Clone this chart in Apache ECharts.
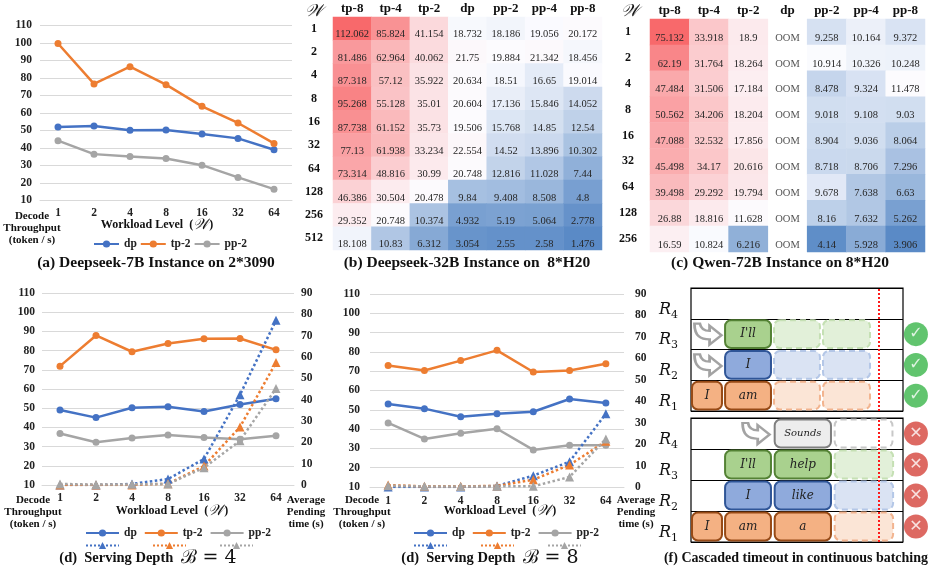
<!DOCTYPE html>
<html><head><meta charset="utf-8">
<script src="https://cdn.jsdelivr.net/npm/echarts@6/dist/echarts.min.js"></script>
<style>html,body{margin:0;padding:0;background:#fff}#c{width:935px;height:574px}</style>
</head><body><div id="c"></div>
<script>
const SERIF = "'Liberation Serif','DejaVu Serif',serif";
const MATH = "'DejaVu Serif','Liberation Serif',serif";
const TXT = '#222';

// ---------- data ----------
const workload = ['1','2','4','8','16','32','64'];
const names = ['dp','tp-2','pp-2'];

// (a) Deepseek-7B on 2*3090
const a_dp  = [52.0, 52.6, 50.1, 50.3, 48.0, 45.5, 39.0];
const a_tp2 = [99.7, 76.6, 86.5, 76.2, 63.8, 54.3, 42.6];
const a_pp2 = [44.2, 36.5, 35.2, 34.0, 30.2, 23.2, 16.5];

// (b)/(c) heatmaps
const strategies = ['tp-8','tp-4','tp-2','dp','pp-2','pp-4','pp-8'];
const wB = ['1','2','4','8','16','32','64','128','256','512'];
const b_vals = [
  [112.062, 85.824, 41.154, 18.732, 18.186, 19.056, 20.172],
  [81.486, 62.964, 40.062, 21.75, 19.884, 21.342, 18.456],
  [87.318, 57.12, 35.922, 20.634, 18.51, 16.65, 19.014],
  [95.268, 55.128, 35.01, 20.604, 17.136, 15.846, 14.052],
  [87.738, 61.152, 35.73, 19.506, 15.768, 14.85, 12.54],
  [77.13, 61.938, 33.234, 22.554, 14.52, 13.896, 10.302],
  [73.314, 48.816, 30.99, 20.748, 12.816, 11.028, 7.44],
  [46.386, 30.504, 20.478, 9.84, 9.408, 8.508, 4.8],
  [29.352, 20.748, 10.374, 4.932, 5.19, 5.064, 2.778],
  [18.108, 10.83, 6.312, 3.054, 2.55, 2.58, 1.476]
];
const wC = ['1','2','4','8','16','32','64','128','256'];
const c_vals = [
  [75.132, 33.918, 18.9, null, 9.258, 10.164, 9.372],
  [62.19, 31.764, 18.264, null, 10.914, 10.326, 10.248],
  [47.484, 31.506, 17.184, null, 8.478, 9.324, 11.478],
  [50.562, 34.206, 18.204, null, 9.018, 9.108, 9.03],
  [47.088, 32.532, 17.856, null, 8.904, 9.036, 8.064],
  [45.498, 34.17, 20.616, null, 8.718, 8.706, 7.296],
  [39.498, 29.292, 19.794, null, 9.678, 7.638, 6.63],
  [26.88, 18.816, 11.628, null, 8.16, 7.632, 5.262],
  [16.59, 10.824, 6.216, null, 4.14, 5.928, 3.906]
];
const oomText = 'OOM';

// (d) serving depth B=4
const d4_dp  = [49.1, 45.1, 50.2, 50.7, 48.3, 51.9, 54.9];
const d4_tp2 = [71.9, 87.9, 79.4, 83.7, 86.2, 86.3, 80.4];
const d4_pp2 = [36.8, 32.3, 34.5, 36.1, 34.7, 33.8, 35.6];
const d4_pend_dp  = [0, 0, 0.5, 2.8, 12.2, 42.3, 77.2];
const d4_pend_tp2 = [0, 0, 0, 0.6, 8.9, 27.2, 57.4];
const d4_pend_pp2 = [0.5, 0.2, 0.3, 0.5, 8.1, 20.8, 45.2];
// (d) serving depth B=8
const d8_dp  = [53.0, 50.6, 46.4, 48.0, 49.0, 55.6, 53.5];
const d8_tp2 = [72.9, 70.4, 75.5, 80.8, 69.6, 70.4, 73.9];
const d8_pp2 = [43.2, 34.9, 37.8, 40.2, 29.2, 31.6, 31.6];
const d8_pend_dp  = [0, 0, 0, 0.5, 5.3, 11.8, 34.2];
const d8_pend_tp2 = [0.9, 0.3, 0.3, 0.5, 3.4, 10.3, 21.3];
const d8_pend_pp2 = [0.6, 0.3, 0.2, 0.3, 0.3, 4.7, 22.4];

// (f) cascaded timeout: [requestRow, startTime, endTime, token, state]
const fRows = ['R1','R2','R3','R4'];
const fTop = [
  [0, 0, 1.51, 'I', 'done'], [0, 1.56, 3.82, 'am', 'done'], [0, 3.87, 6.13, '', 'future'], [0, 6.18, 8.49, '', 'future'],
  [1, 1.56, 3.82, 'I', 'done'], [1, 3.87, 6.13, '', 'future'], [1, 6.18, 8.49, '', 'future'],
  [2, 1.56, 3.82, "I'll", 'done'], [2, 3.87, 6.13, '', 'future'], [2, 6.18, 8.49, '', 'future']
];
const fBot = [
  [0, 0, 1.51, 'I', 'done'], [0, 1.56, 3.82, 'am', 'done'], [0, 3.9, 6.65, 'a', 'done'], [0, 6.73, 9.58, '', 'future'],
  [1, 1.56, 3.82, 'I', 'done'], [1, 3.9, 6.65, 'like', 'done'], [1, 6.73, 9.58, '', 'future'],
  [2, 1.56, 3.82, "I'll", 'done'], [2, 3.9, 6.65, 'help', 'done'], [2, 6.73, 9.58, '', 'future'],
  [3, 3.9, 6.65, 'Sounds', 'done'], [3, 6.73, 9.55, '', 'future']
];
const fTimeout = 8.87;
const fArrivalsTop = [[0.8, 2], [0.8, 1]];
const fArrivalsBot = [[3.07, 3]];
const fOkRows = [0, 1, 2];
const fFailRows = [0, 1, 2, 3];
const fStatusTime = 10.61;

// ---------- helpers ----------
const COL = {dp:'#4472C4', 'tp-2':'#ED7D31', 'pp-2':'#A5A5A5'};
const PAL = [
  {f:'#F4B183', s:'#974A16', ff:'#FBE5D6', fs:'#F2B48F'},
  {f:'#8FAADC', s:'#2F5597', ff:'#DAE3F3', fs:'#B4C7E7'},
  {f:'#A9D18E', s:'#548235', ff:'#E2F0D9', fs:'#C5E0B4'},
  {f:'#EDEDED', s:'#7F7F7F', ff:'#FFFFFF', fs:'#C8C8C8'}
];
const axLabel = {fontFamily:SERIF, fontWeight:'bold', fontSize:11.5, color:TXT};

function catX(grid, margin){
  return {type:'category', gridIndex:grid, data:workload, boundaryGap:true,
    axisLine:{lineStyle:{color:'#D9D9D9', width:1}}, axisTick:{show:false},
    axisLabel:Object.assign({}, axLabel, {margin})};
}
function valY(grid, min, max, pos, margin, split){
  return {type:'value', gridIndex:grid, min, max, interval:10, position:pos,
    axisLine:{show:false}, axisTick:{show:false},
    splitLine:{show:split, lineStyle:{color:'#D9D9D9'}},
    axisLabel:Object.assign({}, axLabel, {margin})};
}
function solid(name, data, xi, yi){
  const c = COL[name];
  return {type:'line', name, data, xAxisIndex:xi, yAxisIndex:yi, symbol:'circle', symbolSize:7,
    lineStyle:{color:c, width:2.5}, itemStyle:{color:c}, z:3};
}
function dotted(name, data, xi, yi){
  const c = COL[name];
  return {type:'line', name:name+' ', data, xAxisIndex:xi, yAxisIndex:yi, symbol:'triangle', symbolSize:9,
    lineStyle:{color:c, width:2.5, type:'dotted'}, itemStyle:{color:c}, z:4};
}
function heatData(vals){
  const d=[]; vals.forEach((row,ri)=>row.forEach((v,ci)=>{ if(v!==null) d.push([ci,ri,v]); })); return d;
}
function median(arr){ const s=arr.slice().sort((a,b)=>a-b); const n=s.length; return n%2? s[(n-1)/2] : (s[n/2-1]+s[n/2])/2; }
function lerp(c1,c2,t){ return 'rgb('+c1.map((v,i)=>Math.round(v+(c2[i]-v)*t)).join(',')+')'; }
function excelScale(vals){
  const flat = vals.flat().filter(v=>v!==null);
  const min=Math.min(...flat), max=Math.max(...flat), mid=median(flat);
  const blue=[90,138,198], white=[252,252,255], red=[248,105,107];
  const stops=[]; const n=200;
  for(let i=0;i<=n;i++){
    const v=min+(max-min)*i/n;
    stops.push(v<=mid? lerp(blue,white,(v-min)/(mid-min)) : lerp(white,red,(v-mid)/(max-mid)));
  }
  return {min, max, stops};
}
const scB = excelScale(b_vals), scC = excelScale(c_vals);

function heatAxisX(grid){
  return {type:'category', gridIndex:grid, data:strategies, position:'top',
    axisLine:{show:false}, axisTick:{show:false}, splitLine:{show:false},
    axisLabel:{fontFamily:SERIF, fontWeight:'bold', fontSize:13, color:'#111', margin:2}};
}
function heatAxisY(grid, data, margin){
  return {type:'category', gridIndex:grid, data, inverse:true,
    axisLine:{show:false}, axisTick:{show:false}, splitLine:{show:false},
    axisLabel:{fontFamily:SERIF, fontWeight:'bold', fontSize:12, color:'#111', margin, align:'center', padding:[12,0,0,0]}};
}
const cellLabel = {show:true, formatter:p=>String(p.value[2]), fontFamily:SERIF, fontSize:10.5, color:'#262626', offset:[0,6]};

function blockRenderer(blocks){
  return function(params, api){
    const b = blocks[params.dataIndex];
    const row=b[0], x0=b[1], x1=b[2], txt=b[3], future=b[4]==='future';
    const p0=api.coord([x0,row]), p1=api.coord([x1,row]);
    const h=api.size([0,1])[1];
    const pal=PAL[row];
    const children=[{type:'rect', shape:{x:p0[0]+1, y:p0[1]-h/2+1.5, width:p1[0]-p0[0]-2, height:h-3, r:6},
      style:{fill: future?pal.ff:pal.f, stroke: future?pal.fs:pal.s, lineWidth:2, lineDash: future?[6,4]:null}}];
    if(txt) children.push({type:'text', style:{text:txt, x:(p0[0]+p1[0])/2, y:p0[1], align:'center', verticalAlign:'middle',
      fontFamily:MATH, fontStyle:'italic', fontSize: txt.length>4?10:12, fill:'#222'}});
    return {type:'group', children};
  };
}
function blockSeries(blocks, xi, yi){
  return {type:'custom', xAxisIndex:xi, yAxisIndex:yi, renderItem:blockRenderer(blocks),
    data:blocks.map(b=>[b[1], b[0], b[2]]), encode:{x:[0,2], y:1}, clip:false, silent:true,
    markLine:{silent:true, symbol:['none','none'], label:{show:false}, data:[{xAxis:fTimeout}],
      lineStyle:{color:'#FF1A1A', type:'dotted', width:2}}};
}
const arrowPath = 'path://M3,2 C3,14 9,17 17,17 L17,22 L28,13 L17,4 L17,9 C12,9 9,7 8,2 Z';
function arrowSeries(data, xi, yi){
  return {type:'scatter', xAxisIndex:xi, yAxisIndex:yi, data, symbol:arrowPath, symbolSize:[27,21], symbolKeepAspect:false,
    itemStyle:{color:'#fff', borderColor:'#8C8C8C', borderWidth:2.5}, clip:false, silent:true, z:5};
}
function statusSeries(rows, ok, xi, yi){
  return {type:'scatter', xAxisIndex:xi, yAxisIndex:yi, data:rows.map(r=>[fStatusTime, r]), symbol:'circle', symbolSize:24,
    itemStyle:{color: ok?'#39B54A':'#D5433B'}, clip:false, silent:true,
    label:{show:true, position:'inside', formatter: ok?'✓':'✕', color:'#fff', fontFamily:'DejaVu Sans', fontWeight:'bold', fontSize:16}};
}
function rAxis(grid){
  return {type:'category', gridIndex:grid, data:fRows, boundaryGap:true,
    axisLine:{show:false}, axisTick:{show:false},
    splitLine:{show:true, interval:0, lineStyle:{color:'#000', width:1.2}},
    axisLabel:{margin:13, formatter:v=>'{r|R}{s|'+v.slice(1)+'}', padding:[12,0,0,0],
      rich:{r:{fontFamily:MATH, fontStyle:'italic', fontSize:16, color:'#111', lineHeight:22},
            s:{fontFamily:MATH, fontSize:11, color:'#111', verticalAlign:'bottom', lineHeight:12}}}};
}
function fX(grid){ return {type:'value', gridIndex:grid, min:0, max:10, show:false}; }

function lg(left, top, w, data, empty, gap, tw){
  return {left, top, itemWidth:w, itemHeight:9, itemGap:gap, data, selectedMode:false,
    formatter: empty? (()=>'') : (n=>n),
    textStyle:{fontFamily:SERIF, fontWeight:'bold', fontSize:11.5, color:TXT, width: empty?0:tw}};
}
function txt(x, y, text, size, opt){
  return {type:'text', x, y, silent:true, style:Object.assign({text, align:'center', verticalAlign:'middle',
    fontFamily:SERIF, fontWeight:'bold', fontSize:size, fill:'#111'}, opt||{})};
}
const yName = 'Decode\nThroughput\n(token / s)';
const pName = 'Average\nPending\ntime (s)';
function wlName(x, y){
  return txt(x, y, '{a|Workload Level  (}{w|𝒲}{a|)}', 12, {rich:{a:{fontFamily:SERIF, fontWeight:'bold', fontSize:12, fill:'#111'},
    w:{fontFamily:MATH, fontStyle:'italic', fontSize:15, fill:'#111'}}});
}
function dCap(x, y, b){
  return txt(x, y, '{a|(d)  Serving Depth  }{m|ℬ = '+b+'}', 14, {rich:{a:{fontFamily:SERIF, fontWeight:'bold', fontSize:14.5, fill:'#111'},
    m:{fontFamily:MATH, fontSize:19, fill:'#111'}}});
}

const option = {
  animation:false,
  backgroundColor:'#fff',
  textStyle:{fontFamily:SERIF},
  grid:[
    {left:40, top:25.5, width:252, height:175},
    {left:333, top:17, width:269, height:233},
    {left:650, top:19, width:275, height:233},
    {left:42, top:293, width:252, height:192},
    {left:370, top:294, width:254, height:193},
    {left:691, top:288, width:212, height:123, show:true, borderColor:'#000', borderWidth:1.2},
    {left:691, top:418, width:212, height:124, show:true, borderColor:'#000', borderWidth:1.2}
  ],
  xAxis:[catX(0,7), heatAxisX(1), heatAxisX(2), catX(3,7), catX(4,8), fX(5), fX(6)],
  yAxis:[
    valY(0,10,110,'left',8,true),
    heatAxisY(1,wB,19),
    heatAxisY(2,wC,22),
    valY(3,10,110,'left',7,true),
    valY(3,0,90,'right',7,false),
    valY(4,10,110,'left',10,true),
    valY(4,0,90,'right',11,false),
    rAxis(5), rAxis(6)
  ],
  visualMap:[
    {type:'continuous', show:false, seriesIndex:3, dimension:2, min:scB.min, max:scB.max, inRange:{color:scB.stops}},
    {type:'continuous', show:false, seriesIndex:4, dimension:2, min:scC.min, max:scC.max, inRange:{color:scC.stops}}
  ],
  legend:[
    lg(88,233,25,names,false,3,14),
    lg(80,522,33,names,false,7,20),
    lg(80,536,33,names.map(n=>n+' '),true,32,0),
    lg(408,522,33,names,false,7,20),
    lg(408,536,33,names.map(n=>n+' '),true,32,0)
  ],
  series:[
    solid('dp',a_dp,0,0), solid('tp-2',a_tp2,0,0), solid('pp-2',a_pp2,0,0),
    {type:'heatmap', xAxisIndex:1, yAxisIndex:1, data:heatData(b_vals), label:cellLabel, itemStyle:{borderWidth:0}, emphasis:{disabled:true}},
    {type:'heatmap', xAxisIndex:2, yAxisIndex:2, data:heatData(c_vals), label:cellLabel, itemStyle:{borderWidth:0}, emphasis:{disabled:true}},
    {type:'scatter', xAxisIndex:2, yAxisIndex:2, data:c_vals.map((r,ri)=>r[3]===null?[3,ri]:null).filter(Boolean),
      symbol:'rect', symbolSize:2, itemStyle:{color:'rgba(0,0,0,0)'}, silent:true,
      label:{show:true, position:'inside', formatter:oomText, fontFamily:SERIF, fontSize:10.5, color:'#262626', offset:[0,6]}},
    solid('dp',d4_dp,3,3), solid('tp-2',d4_tp2,3,3), solid('pp-2',d4_pp2,3,3),
    dotted('dp',d4_pend_dp,3,4), dotted('tp-2',d4_pend_tp2,3,4), dotted('pp-2',d4_pend_pp2,3,4),
    solid('dp',d8_dp,4,5), solid('tp-2',d8_tp2,4,5), solid('pp-2',d8_pp2,4,5),
    dotted('dp',d8_pend_dp,4,6), dotted('tp-2',d8_pend_tp2,4,6), dotted('pp-2',d8_pend_pp2,4,6),
    blockSeries(fTop,5,7), blockSeries(fBot,6,8),
    arrowSeries(fArrivalsTop,5,7), arrowSeries(fArrivalsBot,6,8),
    statusSeries(fOkRows,true,5,7), statusSeries(fFailRows,false,6,8)
  ],
  graphic:[
    txt(156,263,'(a) Deepseek-7B Instance on 2*3090',15.5),
    txt(467,263,'(b) Deepseek-32B Instance on  8*H20',15.5),
    txt(780,263,'(c) Qwen-72B Instance on 8*H20',15.5),
    dCap(148,558,4), dCap(490,558,8),
    txt(796,558,'(f) Cascaded timeout in continuous batching',14),
    txt(314,12,'𝒲',17,{fontFamily:MATH, fontWeight:'normal', fontStyle:'italic'}),
    txt(630,12,'𝒲',17,{fontFamily:MATH, fontWeight:'normal', fontStyle:'italic'}),
    txt(32,228,yName,11,{lineHeight:12}),
    txt(33,512,yName,11,{lineHeight:12}),
    txt(362,512,yName,11,{lineHeight:12}),
    txt(306,512,pName,11,{lineHeight:12}),
    txt(636,512,pName,11,{lineHeight:12}),
    wlName(157,225), wlName(172,511), wlName(500,511)
  ]
};
echarts.init(document.getElementById('c')).setOption(option);
</script></body></html>
